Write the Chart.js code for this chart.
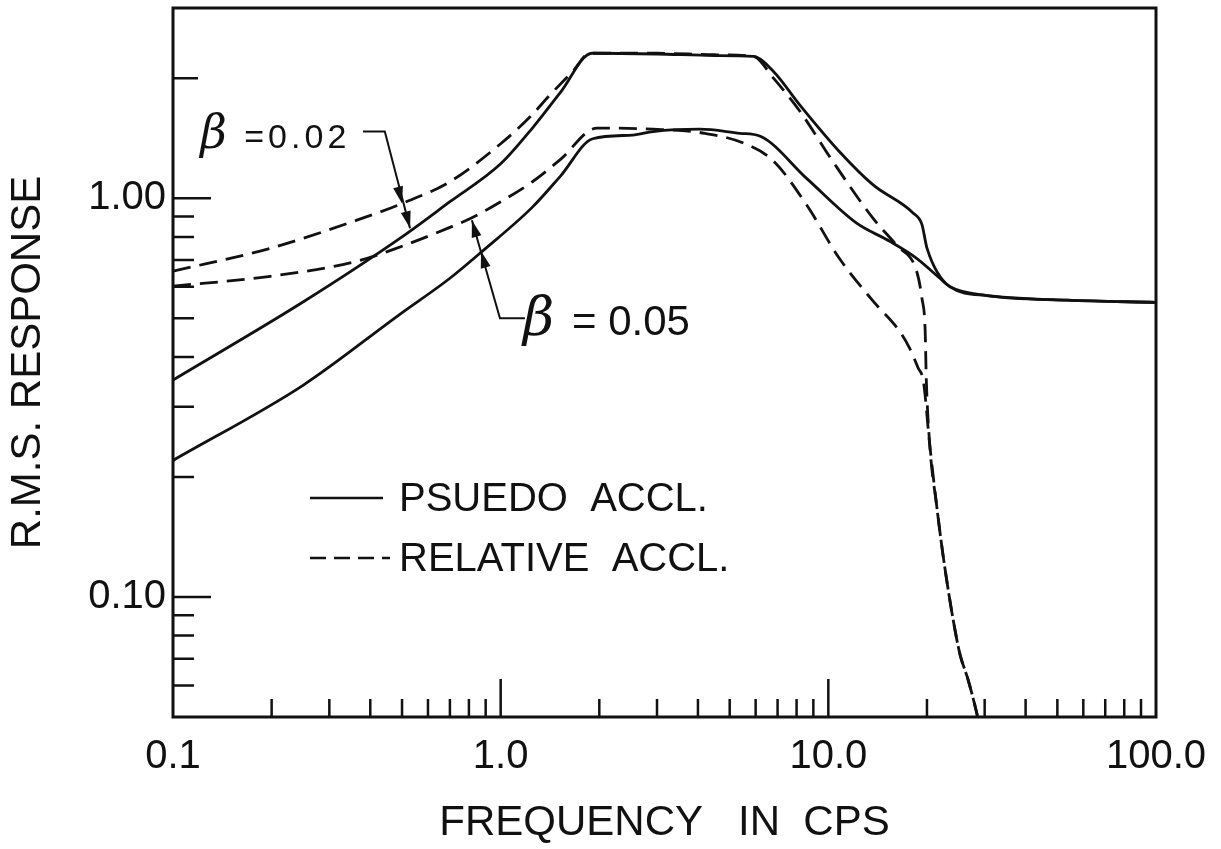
<!DOCTYPE html>
<html>
<head>
<meta charset="utf-8">
<script src="https://cdn.jsdelivr.net/npm/chart.js@4.4.1/dist/chart.umd.min.js"></script>
<style>
  html, body { margin: 0; padding: 0; background: #fff; }
  #wrap { width: 1221px; height: 849px; }
</style>
</head>
<body>
<div id="wrap"><canvas id="chart"></canvas></div>
<script>
// [frequency in cps, rms response]
const pseudo002 = [
  [0.1, 0.35], [0.25, 0.55], [0.5, 0.8], [0.7, 0.98], [1.0, 1.22], [1.25, 1.5],
  [1.52, 1.84], [1.9, 2.31], [3.0, 2.3], [4.5, 2.28], [5.9, 2.27], [6.8, 2.08],
  [8.2, 1.71], [10.8, 1.31], [13.7, 1.08], [18.1, 0.92], [19.3, 0.86], [20.0, 0.75],
  [23.5, 0.6], [30.5, 0.57], [53.5, 0.555], [100, 0.548]
];
const relative002 = [
  [0.1, 0.656], [0.198, 0.749], [0.364, 0.881], [0.5, 0.97], [0.7, 1.1], [1.0, 1.37],
  [1.23, 1.6], [1.4, 1.8], [1.66, 2.08], [1.87, 2.31], [3.0, 2.31], [4.5, 2.29],
  [5.9, 2.27], [6.8, 2.0], [8.2, 1.65], [10.3, 1.24], [13.7, 0.89], [16.2, 0.76],
  [18.6, 0.656], [19.3, 0.562], [19.75, 0.464], [19.9, 0.354], [20.4, 0.24],
  [21.4, 0.17], [22.4, 0.127], [23.8, 0.092], [25.2, 0.072], [26.7, 0.062],
  [28.4, 0.051], [29.0, 0.047]
];
const pseudo005 = [
  [0.1, 0.22], [0.25, 0.34], [0.49, 0.51], [0.7, 0.63], [0.88, 0.737], [1.25, 0.95],
  [1.52, 1.135], [1.91, 1.41], [2.53, 1.44], [2.92, 1.47], [4.06, 1.49], [5.37, 1.455],
  [6.2, 1.43], [8.6, 1.12], [12.2, 0.866], [15.4, 0.78], [18.6, 0.707], [21.9, 0.63],
  [23.5, 0.6], [30.5, 0.57], [53.5, 0.555], [100, 0.548]
];
const relative005 = [
  [0.1, 0.602], [0.198, 0.637], [0.364, 0.695], [0.5, 0.758], [0.7, 0.845], [0.82, 0.895],
  [1.0, 0.98], [1.25, 1.1], [1.52, 1.25], [1.97, 1.5], [2.92, 1.49], [4.2, 1.455], [5.57, 1.37],
  [6.8, 1.24], [8.6, 0.96], [10.8, 0.707], [13.7, 0.552], [16.5, 0.464], [17.7, 0.421],
  [18.8, 0.375], [19.5, 0.348], [20.4, 0.24], [21.4, 0.17], [22.4, 0.127],
  [23.8, 0.092], [25.2, 0.072], [26.7, 0.062], [28.4, 0.051], [29.0, 0.047]
];

const xTicks = [0.1, 0.2, 0.3, 0.4, 0.5, 0.6, 0.7, 0.8, 0.9, 1, 2, 3, 4, 5, 6, 7, 8, 9,
  10, 20, 30, 40, 50, 60, 70, 80, 90, 100];
const xTickLabels = { 0.1: "0.1", 1: "1.0", 10: "10.0", 100: "100.0" };
const yTicks = [0.06, 0.07, 0.08, 0.09, 0.1, 0.2, 0.3, 0.4, 0.5, 0.6, 0.7, 0.8, 0.9, 1, 2];
const yTickLabels = { 0.1: "0.10", 1: "1.00" };

const legendRows = [
  { label: "PSUEDO  ACCL.", dash: [] },
  { label: "RELATIVE  ACCL.", dash: [16, 8] }
];

// beta labels: leader path and arrow tips in data coords
const betaNotes = [
  { value: "=0.02", beta: [0.121, 1.334], text: [0.165, 1.334], betaSize: 46, size: 34, spacing: "4px",
    path: [[0.38, 1.47], [0.443, 1.47], [0.529, 0.841]], tips: [[0.5, 0.97], [0.529, 0.841]] },
  { value: "= 0.05", beta: [1.169, 0.4535], text: [1.651, 0.4535], betaSize: 54, size: 42, spacing: "0px",
    path: [[1.186, 0.5], [0.995, 0.5], [0.817, 0.881]], tips: [[0.871, 0.737], [0.817, 0.881]] }
];

const ink = "#111";
const font = "'Liberation Sans', Arial, sans-serif";
const dashed = [18, 9];

const toPts = arr => arr.map(([x, y]) => ({ x, y }));

function series(data, dash) {
  return {
    data: toPts(data),
    borderColor: ink,
    borderWidth: 2.8,
    borderDash: dash,
    pointRadius: 0,
    fill: false,
    cubicInterpolationMode: "monotone"
  };
}

function arrowHead(ctx, from, tip) {
  const ang = Math.atan2(tip[1] - from[1], tip[0] - from[0]);
  const len = 17, half = 5;
  ctx.beginPath();
  ctx.moveTo(tip[0], tip[1]);
  ctx.lineTo(tip[0] - len * Math.cos(ang) + half * Math.sin(ang), tip[1] - len * Math.sin(ang) - half * Math.cos(ang));
  ctx.lineTo(tip[0] - len * Math.cos(ang) - half * Math.sin(ang), tip[1] - len * Math.sin(ang) + half * Math.cos(ang));
  ctx.closePath();
  ctx.fill();
}

const drawing = {
  id: "drawing",
  afterDraw(chart) {
    const { ctx, chartArea: a, scales: { x, y } } = chart;
    const px = p => [x.getPixelForValue(p[0]), y.getPixelForValue(p[1])];
    ctx.save();
    ctx.strokeStyle = ink;
    ctx.fillStyle = ink;

    // frame
    ctx.lineWidth = 3;
    ctx.strokeRect(a.left, a.top, a.right - a.left, a.bottom - a.top);

    // inward tick marks
    ctx.lineWidth = 2.5;
    ctx.beginPath();
    yTicks.forEach(v => {
      const py = y.getPixelForValue(v);
      const len = yTickLabels[v] ? 38 : (v === 2 ? 25 : 21);
      ctx.moveTo(a.left, py);
      ctx.lineTo(a.left + len, py);
    });
    xTicks.forEach(v => {
      if (v === 0.1 || v === 100) return;
      const pxv = x.getPixelForValue(v);
      const len = xTickLabels[v] ? 38 : 18;
      ctx.moveTo(pxv, a.bottom);
      ctx.lineTo(pxv, a.bottom - len);
    });
    ctx.stroke();

    // legend
    ctx.font = "40px " + font;
    ctx.textBaseline = "middle";
    legendRows.forEach((row, i) => {
      const ly = a.top + 490 + i * 60;
      ctx.setLineDash(row.dash);
      ctx.lineWidth = 2.6;
      ctx.beginPath();
      ctx.moveTo(a.left + 137, ly);
      ctx.lineTo(a.left + (row.dash.length ? 217 : 210), ly);
      ctx.stroke();
      ctx.setLineDash([]);
      ctx.fillText(row.label, a.left + 226, ly + 2);
    });

    // beta notes
    ctx.textBaseline = "alphabetic";
    betaNotes.forEach(n => {
      ctx.lineWidth = 2;
      const pts = n.path.map(px);
      ctx.beginPath();
      pts.forEach((p, i) => i ? ctx.lineTo(p[0], p[1]) : ctx.moveTo(p[0], p[1]));
      ctx.stroke();
      const from = pts[pts.length - 2];
      n.tips.map(px).forEach(t => arrowHead(ctx, from, t));
      const b = px(n.beta);
      ctx.font = "italic " + n.betaSize + "px 'DejaVu Serif', serif";
      ctx.letterSpacing = "0px";
      ctx.fillText("\u03B2", b[0], b[1]);
      const t = px(n.text);
      ctx.font = n.size + "px " + font;
      ctx.letterSpacing = n.spacing;
      ctx.fillText(n.value, t[0], t[1]);
      ctx.letterSpacing = "0px";
    });
    ctx.restore();
  }
};

new Chart(document.getElementById("chart"), {
  type: "line",
  data: {
    datasets: [
      series(pseudo002, []),
      series(relative002, dashed),
      series(pseudo005, []),
      series(relative005, dashed)
    ]
  },
  options: {
    responsive: true,
    maintainAspectRatio: false,
    animation: false,
    layout: { padding: { top: 8, right: 65, left: 0, bottom: 0 } },
    plugins: { legend: { display: false }, tooltip: { enabled: false } },
    scales: {
      x: {
        type: "logarithmic",
        min: 0.1,
        max: 100,
        afterBuildTicks: s => { s.ticks = xTicks.map(v => ({ value: v })); },
        afterFit: s => { s.height = 132; s.paddingLeft = 0; s.paddingRight = 0; },
        grid: { display: false, drawTicks: false },
        border: { display: false },
        ticks: {
          autoSkip: false, maxRotation: 0, padding: 16, color: ink,
          font: { family: font, size: 40 },
          callback: v => xTickLabels[v] || ""
        },
        title: {
          display: true, text: "FREQUENCY   IN  CPS", color: ink,
          font: { family: font, size: 42 }, padding: { top: 0, bottom: 0 }
        }
      },
      y: {
        type: "logarithmic",
        min: 0.05,
        max: 3,
        afterBuildTicks: s => { s.ticks = yTicks.map(v => ({ value: v })); },
        afterFit: s => { s.width = 173; s.paddingTop = 0; s.paddingBottom = 0; },
        grid: { display: false, drawTicks: false },
        border: { display: false },
        ticks: {
          autoSkip: false, padding: 7, color: ink,
          font: { family: font, size: 40 },
          callback: v => yTickLabels[v] || ""
        },
        title: {
          display: true, text: "R.M.S. RESPONSE", color: ink,
          font: { family: font, size: 42 }, padding: { top: 3, bottom: 0 }
        }
      }
    }
  },
  plugins: [drawing]
});
</script>
</body>
</html>
